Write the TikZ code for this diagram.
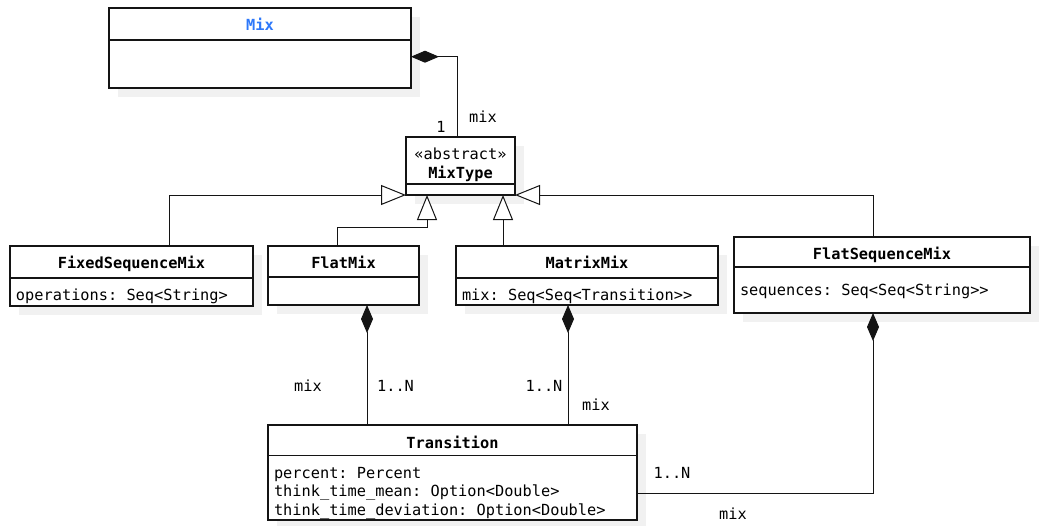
\documentclass[tikz,border=0pt]{standalone}
\usepackage{fontspec}
\setmonofont{DejaVu Sans Mono}
\usetikzlibrary{arrows.meta,calc}

\definecolor{ink}{RGB}{20,20,20}
\definecolor{shadowgray}{RGB}{241,241,241}
\definecolor{titleblue}{RGB}{45,120,250}

\tikzset{
  every node/.style={font=\ttfamily\fontsize{15.3}{18}\selectfont,
    inner sep=0pt, outer sep=0pt, text height=0.75em, text depth=0.25em},
  umlclass/.style={draw=ink, line width=1.2pt, fill=white, rectangle},
  divider/.style={draw=ink, line width=1.2pt},
  ctitle/.style={font=\ttfamily\bfseries\fontsize{15.3}{18}\selectfont},
  attr/.style={anchor=west},
  lbl/.style={},
  assoc/.style={draw=ink, line width=1pt},
  composition/.style={assoc, -{Diamond[length=28pt,width=12pt,fill=ink]}},
  generalization/.style={assoc, -{Triangle[open,length=25pt,width=20pt,fill=white]}},
}

% class frame with its shadow and the line under the header
% #1 name, #2 x, #3 y, #4 width, #5 height, #6 header height
\newcommand\umlclassbox[6]{%
  \fill[shadowgray] (#2+9,#3+9) rectangle (#2+#4+9,#3+#5+9);
  \node[umlclass, minimum width=#4pt, minimum height=#5pt, anchor=north west] (#1) at (#2,#3) {};
  \draw[divider] ([yshift=-#6pt]#1.north west) -- ([yshift=-#6pt]#1.north east);
}

\begin{document}
\begin{tikzpicture}[x=1pt,y=-1pt]
\useasboundingbox (0,0) rectangle (1039,525);

% classes
\umlclassbox{mix}{109}{8}{302}{80}{32}
\node[ctitle, text=titleblue] (mixname) at (260,27.5) {Mix};

\umlclassbox{mixtype}{406}{137}{109}{58}{47}
\node (mixtypestereo) at (460.5,156.5) {«abstract»};
\node[ctitle] (mixtypename) at (460.5,175.5) {MixType};

\umlclassbox{fixed}{10}{246}{243}{60}{32}
\node[ctitle] (fixedname) at (131.5,265.5) {FixedSequenceMix};
\node[attr] (fixedops) at (16,297.5) {operations: Seq<String>};

\umlclassbox{flatmix}{268}{246}{151}{59}{31}
\node[ctitle] (flatmixname) at (343.5,265.5) {FlatMix};

\umlclassbox{matrixmix}{456}{246}{262}{59}{32}
\node[ctitle] (matrixmixname) at (587,265.5) {MatrixMix};
\node[attr] (matrixmixattr) at (462,297.5) {mix: Seq<Seq<Transition>>};

\umlclassbox{flatseq}{734}{237}{296}{76}{30}
\node[ctitle] (flatseqname) at (882,256.5) {FlatSequenceMix};
\node[attr] (flatseqattr) at (740,292.5) {sequences: Seq<Seq<String>>};

\umlclassbox{transition}{268}{425}{369}{95}{30.5}
\node[ctitle] (transitionname) at (452.5,445.5) {Transition};
\node[attr] (tpercent) at (274,475.5) {percent: Percent};
\node[attr] (tmean) at (274,494) {think\_time\_mean: Option<Double>};
\node[attr] (tdev) at (274,512.5) {think\_time\_deviation: Option<Double>};

% generalizations
\draw[generalization] ([xshift=37.5pt]fixed.north) |- (mixtype.south west);
\draw[generalization] ([xshift=-6.5pt]flatmix.north) -- ++(0,-19) -| ([xshift=21pt]mixtype.south west);
\coordinate (mxup) at ([xshift=-84pt]matrixmix.north);
\draw[generalization] (mxup) -- (mxup |- mixtype.south);
\draw[generalization] ([xshift=-9pt]flatseq.north) |- (mixtype.south east);

% compositions
\draw[composition] ([xshift=-3.5pt]mixtype.north) |- ([yshift=-8.7pt]mix.east);
\coordinate (fmdown) at ([xshift=23.5pt]flatmix.south);
\draw[composition] (fmdown |- transition.north) -- (fmdown);
\coordinate (mmdown) at ([xshift=-19pt]matrixmix.south);
\draw[composition] (mmdown |- transition.north) -- (mmdown);
\draw[composition] ([yshift=-20.5pt]transition.east) -| ([xshift=-9pt]flatseq.south);

% role names and multiplicities
\node[lbl] (mixmult) at (441,129.5) {1};
\node[lbl] (mixrole) at (483,119.5) {mix};
\node[lbl] (flatrole) at (308,388.5) {mix};
\node[lbl] (flatmult) at (395.5,388.5) {1..N};
\node[lbl] (matrixmult) at (544,388.5) {1..N};
\node[lbl] (matrixrole) at (596,407.5) {mix};
\node[lbl] (seqmult) at (672,475.5) {1..N};
\node[lbl] (seqrole) at (733,516.5) {mix};
\end{tikzpicture}
\end{document}
